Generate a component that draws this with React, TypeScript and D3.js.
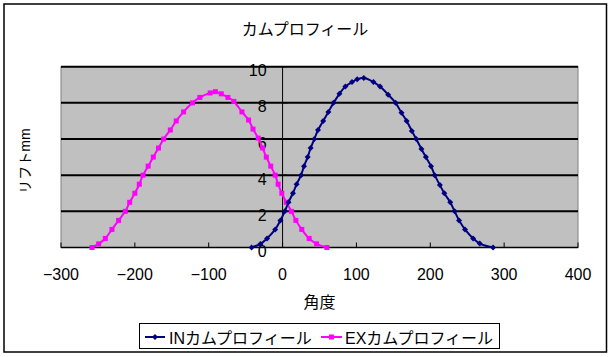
import React from "react";
import * as d3 from "d3";

const W = 612;
const H = 357;

const title = "カムプロフィール";
const xTitle = "角度";
const yTitle = "リフトmm";
const inName = "INカムプロフィール";
const exName = "EXカムプロフィール";

const xTicks = [-300, -200, -100, 0, 100, 200, 300, 400];
const yTicks = [0, 2, 4, 6, 8, 10];

// IN cam: angle (deg), lift (mm)
const inAngle = [-42, -30, -21, -10, -3, 3, 8, 14, 19, 25, 29, 34, 38, 43, 48, 55, 62, 69, 77, 85, 94, 101, 110, 123, 132, 143, 153, 161, 168, 175, 181, 188, 194, 201, 206, 213, 219, 227, 233, 239, 247, 258, 267, 285];
const inLift = [0, 0.2, 0.5, 1.0, 1.5, 2.0, 2.5, 3.0, 3.5, 4.0, 4.5, 5.0, 5.5, 6.0, 6.5, 7.0, 7.5, 8.0, 8.5, 8.9, 9.15, 9.3, 9.37, 9.15, 8.9, 8.45, 8.0, 7.45, 7.0, 6.45, 6.0, 5.45, 5.0, 4.5, 4.0, 3.45, 3.0, 2.5, 2.0, 1.5, 1.0, 0.5, 0.22, 0];

// EX cam: angle (deg), lift (mm)
const exAngle = [-258, -249, -240, -231, -222, -213, -207, -200, -194, -189, -182, -175, -168, -161, -152, -144, -134, -122, -112, -98, -91, -83, -74, -66, -55, -46, -40, -33, -27, -22, -16, -10, -6, -1, 5, 12, 18, 26, 36, 46, 60];
const exLift = [0, 0.2, 0.5, 1.0, 1.5, 2.0, 2.5, 3.0, 3.5, 4.0, 4.5, 5.0, 5.5, 6.0, 6.5, 7.0, 7.5, 8.0, 8.3, 8.55, 8.62, 8.5, 8.3, 8.08, 7.5, 7.05, 6.55, 6.05, 5.5, 5.0, 4.5, 4.0, 3.5, 3.0, 2.5, 2.0, 1.5, 1.0, 0.5, 0.2, 0];

const IN_COLOR = "#000080";
const EX_COLOR = "#FF00FF";
const FONT = "'Liberation Sans', 'Noto Sans CJK JP', sans-serif";

const plot = { left: 61, right: 578, top: 66.7, bottom: 247.5 };

export default function App() {
  const x = d3.scaleLinear().domain([-300, 400]).range([plot.left, plot.right]);
  const y = d3.scaleLinear().domain([0, 10]).range([plot.bottom, plot.top]);

  const line = d3
    .line<[number, number]>()
    .x((d) => x(d[0]))
    .y((d) => y(d[1]))
    .curve(d3.curveCatmullRom);

  const inData: [number, number][] = inAngle.map((a, i) => [a, inLift[i]]);
  const exData: [number, number][] = exAngle.map((a, i) => [a, exLift[i]]);

  const x0 = x(0);
  const diamond = (cx: number, cy: number, r: number) =>
    `M${cx},${cy - r}L${cx + r},${cy}L${cx},${cy + r}L${cx - r},${cy}Z`;

  return (
    <svg
      width={W}
      height={H}
      style={{ position: "absolute", left: 0, top: 0, background: "#fff" }}
      fontFamily={FONT}
    >
      <rect x={0} y={0} width={W} height={H} fill="#fff" />
      <rect x={4} y={4} width={602.5} height={348} fill="#fff" stroke="#000" strokeWidth={1.5} />

      <text x={305} y={29} textAnchor="middle" dominantBaseline="central" fontSize={16} fill="#000">
        {title}
      </text>

      {/* plot area */}
      <rect
        x={plot.left}
        y={plot.top}
        width={plot.right - plot.left}
        height={plot.bottom - plot.top}
        fill="#C0C0C0"
        stroke="#808080"
        strokeWidth={1}
      />

      {/* gridlines */}
      {yTicks
        .filter((t) => t !== 0)
        .map((t) => (
          <line key={"g" + t} x1={plot.left} x2={plot.right} y1={y(t)} y2={y(t)} stroke="#000" strokeWidth={2} />
        ))}

      {/* y tick labels */}
      {yTicks.map((t) => (
        <text
          key={"yl" + t}
          x={x0 - 16}
          y={y(t) + 4}
          textAnchor="end"
          dominantBaseline="central"
          fontSize={16}
          fill="#000"
        >
          {t}
        </text>
      ))}

      {/* y axis */}
      <line x1={x0} x2={x0} y1={plot.top} y2={plot.bottom} stroke="#000" strokeWidth={1} />
      {yTicks.map((t) => (
        <line key={"yt" + t} x1={x0} x2={x0 + 5} y1={y(t)} y2={y(t)} stroke="#000" strokeWidth={1} />
      ))}

      {/* x axis */}
      <line x1={plot.left} x2={plot.right} y1={plot.bottom} y2={plot.bottom} stroke="#000" strokeWidth={1.5} />
      {xTicks.map((t) => (
        <line key={"xt" + t} x1={x(t)} x2={x(t)} y1={plot.bottom} y2={plot.bottom - 5} stroke="#000" strokeWidth={1} />
      ))}
      {xTicks.map((t) => (
        <text
          key={"xl" + t}
          x={x(t)}
          y={274.5}
          textAnchor="middle"
          dominantBaseline="central"
          fontSize={16}
          fill="#000"
        >
          {d3.format("")(t).replace("-", "\u2212")}
        </text>
      ))}

      {/* series */}
      <path d={line(exData) || ""} fill="none" stroke={EX_COLOR} strokeWidth={2} />
      {exData.map((d, i) => (
        <rect key={"em" + i} x={x(d[0]) - 2.5} y={y(d[1]) - 2.5} width={5} height={5} fill={EX_COLOR} />
      ))}
      <path d={line(inData) || ""} fill="none" stroke={IN_COLOR} strokeWidth={2} />
      {inData.map((d, i) => (
        <path key={"im" + i} d={diamond(x(d[0]), y(d[1]), 3)} fill={IN_COLOR} />
      ))}

      {/* axis titles */}
      <text
        x={(plot.left + plot.right) / 2}
        y={302.5}
        textAnchor="middle"
        dominantBaseline="central"
        fontSize={16}
        fill="#000"
      >
        {xTitle}
      </text>
      <text
        transform={`translate(25,161) rotate(-90)`}
        textAnchor="middle"
        dominantBaseline="central"
        fontSize={14}
        fill="#000"
      >
        {yTitle}
      </text>

      {/* legend */}
      <rect x={139.5} y={323.5} width={360} height={25} fill="#fff" stroke="#000" strokeWidth={1} />
      <line x1={145} x2={165} y1={337} y2={337} stroke={IN_COLOR} strokeWidth={2} />
      <path d={diamond(155, 337, 3)} fill={IN_COLOR} />
      <text x={169} y={338} dominantBaseline="central" fontSize={16} fill="#000">
        {inName}
      </text>
      <line x1={321} x2={342} y1={337} y2={337} stroke={EX_COLOR} strokeWidth={2} />
      <rect x={329} y={334.5} width={5} height={5} fill={EX_COLOR} />
      <text x={345} y={338} dominantBaseline="central" fontSize={16} fill="#000">
        {exName}
      </text>
    </svg>
  );
}
